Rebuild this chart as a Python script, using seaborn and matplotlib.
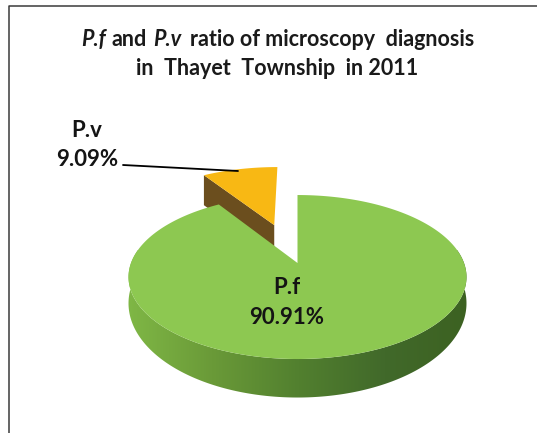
import numpy as np
import matplotlib
matplotlib.use("Agg")
import matplotlib.pyplot as plt
from matplotlib.patches import Polygon
import seaborn as sns

# Values
categories = ["P.f", "P.v"]
ratios = [90.91, 9.09]
explode = [0, 0.54]
slice_colors = ["#8dc851", "#f8b814"]

# Fake 3D look: the pie is tilted with a simple perspective
APEX = (297.5, 263)
SCALE_X, SCALE_Y, TILT = 166.5, 79.6, 0.171


def project(x, y):
    den = 1 + TILT * y
    return APEX[0] + SCALE_X * x / den, APEX[1] - SCALE_Y * y / den


def depth(py):
    # the rim gets thicker towards the viewer
    return np.interp(py, [228, 359], [19, 38.5])


def wedge_points(wedge):
    t = np.radians(np.linspace(wedge.theta1, wedge.theta2, 200))
    px, py = project(wedge.center[0] + np.cos(t), wedge.center[1] + np.sin(t))
    cx, cy = project(*wedge.center)
    return np.column_stack([np.r_[cx, px], np.r_[cy, py]])


sns.set_theme(style="white")
plt.rcParams["font.family"] = ["Lato", "DejaVu Sans"]

fig = plt.figure(figsize=(5.37, 4.33), dpi=100)
ax = fig.add_axes([0, 0, 1, 1])

# The pie gives the slice angles, then the flat wedges are swapped for tilted ones
wedges, _ = ax.pie(ratios, explode=explode, startangle=90, counterclock=False, colors=slice_colors)
green, orange = wedges
green_pts = wedge_points(green)
orange_pts = wedge_points(orange)
green.remove()
orange.remove()

# Orange slice: dark cut face (the green slice hides its lower part), then top
apex_o = orange_pts[0]
tip_o = orange_pts[-1] if orange_pts[-1][0] < orange_pts[1][0] else orange_pts[1]
face = [tip_o, apex_o, apex_o + [0, 30], tip_o + [0, 30]]
ax.add_patch(Polygon(face, closed=True, facecolor="#6b4e1e", edgecolor="none", zorder=2))
ax.add_patch(Polygon(orange_pts, closed=True, facecolor=slice_colors[1], edgecolor="none", zorder=3))

# Green rim with a left to right gradient
t = np.radians(np.linspace(-190, 10, 300))
rim_x, rim_y = project(np.cos(t), np.sin(t))
rim = np.r_[np.column_stack([rim_x, rim_y + depth(rim_y)]), np.column_stack([rim_x, rim_y])[::-1]]
rim_patch = Polygon(rim, closed=True, facecolor="none", edgecolor="none", zorder=4)
ax.add_patch(rim_patch)
rim_cmap = sns.blend_palette(["#80b846", "#6a9a38", "#52802f", "#41692a", "#3c6121"], as_cmap=True)
im = ax.imshow(np.linspace(0, 1, 256)[None, :], extent=(125, 472, 405, 250), aspect="auto", cmap=rim_cmap, zorder=4)
im.set_clip_path(rim_patch)

# Green top
ax.add_patch(Polygon(green_pts, closed=True, facecolor=slice_colors[0], edgecolor="none", zorder=5))

ax.set_aspect("auto")
ax.set_xlim(0, 537)
ax.set_ylim(433, 0)
ax.set_axis_off()
ax.set_frame_on(False)

# Page frame, only left and top show
ax.plot([8.5, 8.5, 537], [433, 5.5, 5.5], color="#3a3a3a", lw=1.1, zorder=6)

# Title, P.f and P.v are in italics
title_bits = [
    (81, "P.f", "italic"),
    (112, "and", "normal"),
    (153, "P.v", "italic"),
    (190, "ratio of microscopy  diagnosis", "normal"),
]
for x, txt, font_style in title_bits:
    ax.text(x, 46, txt, fontsize=15.5, fontweight="bold", style=font_style, color="#1a1a1a", va="baseline", ha="left", zorder=7)
ax.text(277, 75, "in  Thayet  Township  in 2011", fontsize=15.5, fontweight="bold", color="#1a1a1a", va="baseline", ha="center", zorder=7)

# Data labels
label_spots = [(287, 294, 324), (87, 137, 166)]
for cat, val, (x, y1, y2) in zip(categories, ratios, label_spots):
    ax.text(x, y1, cat, fontsize=16, fontweight="bold", color="#141414", ha="center", va="baseline", zorder=7)
    ax.text(x, y2, f"{val:.2f}%", fontsize=16, fontweight="bold", color="#141414", ha="center", va="baseline", zorder=7)
ax.plot([123, 238], [165, 171], color="black", lw=1.3, zorder=7)

fig.savefig("out.png", dpi=100)
